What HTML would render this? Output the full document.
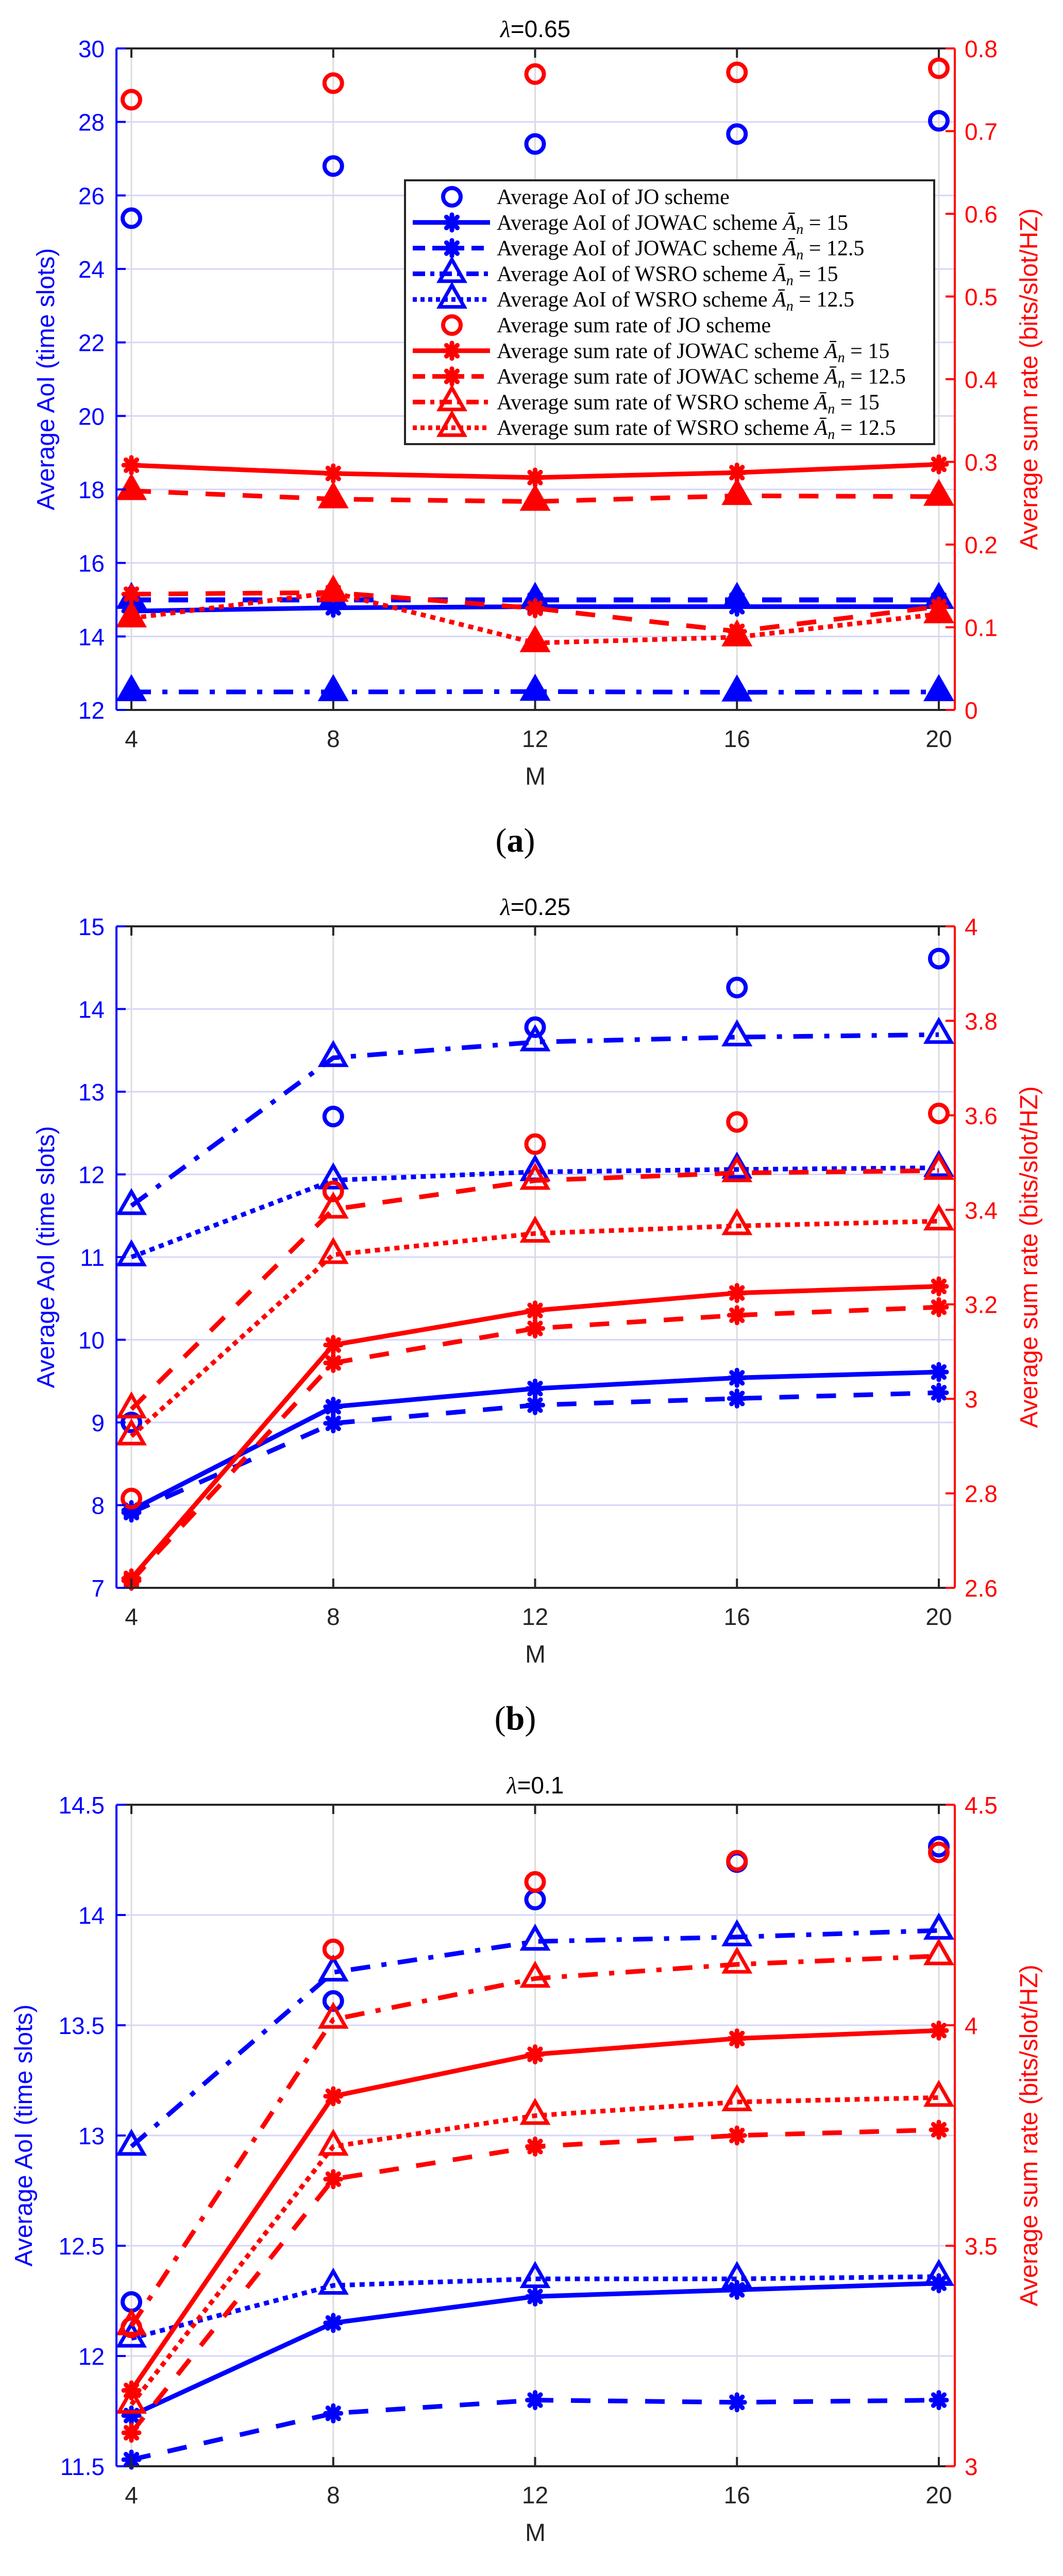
<!DOCTYPE html>
<html><head><meta charset="utf-8">
<style>
html,body{margin:0;padding:0;background:#fff;width:2063px;height:5105px;overflow:hidden;}
svg{display:block;}
text{font-family:"Liberation Sans",sans-serif;}
.serif{font-family:"Liberation Serif",serif;}
</style></head>
<body>
<svg id="fig" width="2063" height="5105" viewBox="0 0 2063 5105" xmlns="http://www.w3.org/2000/svg"></svg>
<script>
const xCategories = [4, 8, 12, 16, 20];
const xTicks = [4, 8, 12, 16, 20];

// Panel (a) lambda = 0.65
const aTitle = "0.65";
const aLeftTicks = [12, 14, 16, 18, 20, 22, 24, 26, 28, 30];
const aRightTicks = ["0", "0.1", "0.2", "0.3", "0.4", "0.5", "0.6", "0.7", "0.8"];
const aAoiJO = [25.38, 26.8, 27.4, 27.67, 28.03];
const aAoiJOWAC15 = [14.69, 14.78, 14.81, 14.81, 14.81];
const aAoiJOWAC125 = [14.99, 14.99, 14.99, 14.99, 14.99];
const aAoiWSRO15 = [15.0, 15.0, 15.0, 15.0, 15.0];
const aAoiWSRO125 = [12.49, 12.49, 12.5, 12.48, 12.49];
const aRateJO = [0.738, 0.758, 0.769, 0.771, 0.776];
const aRateJOWAC15 = [0.296, 0.286, 0.281, 0.287, 0.297];
const aRateJOWAC125 = [0.140, 0.142, 0.123, 0.095, 0.125];
const aRateWSRO15 = [0.265, 0.255, 0.252, 0.259, 0.258];
const aRateWSRO125 = [0.111, 0.142, 0.081, 0.088, 0.116];

// Panel (b) lambda = 0.25
const bTitle = "0.25";
const bLeftTicks = [7, 8, 9, 10, 11, 12, 13, 14, 15];
const bRightTicks = ["2.6", "2.8", "3", "3.2", "3.4", "3.6", "3.8", "4"];
const bAoiJO = [9.0, 12.70, 13.78, 14.26, 14.61];
const bAoiJOWAC15 = [7.94, 9.19, 9.41, 9.54, 9.61];
const bAoiJOWAC125 = [7.91, 8.99, 9.21, 9.29, 9.36];
const bAoiWSRO15 = [11.62, 13.41, 13.60, 13.66, 13.69];
const bAoiWSRO125 = [11.0, 11.93, 12.03, 12.06, 12.08];
const bRateJO = [2.789, 3.439, 3.539, 3.586, 3.604];
const bRateJOWAC15 = [2.62, 3.114, 3.187, 3.224, 3.238];
const bRateJOWAC125 = [2.615, 3.076, 3.149, 3.177, 3.194];
const bRateWSRO15 = [2.978, 3.401, 3.462, 3.478, 3.483];
const bRateWSRO125 = [2.921, 3.305, 3.35, 3.366, 3.376];

// Panel (c) lambda = 0.1
const cTitle = "0.1";
const cLeftTicks = ["11.5", "12", "12.5", "13", "13.5", "14", "14.5"];
const cRightTicks = ["3", "3.5", "4", "4.5"];
const cAoiJO = [12.245, 13.61, 14.07, 14.24, 14.31];
const cAoiJOWAC15 = [11.73, 12.15, 12.27, 12.30, 12.33];
const cAoiJOWAC125 = [11.53, 11.74, 11.80, 11.79, 11.80];
const cAoiWSRO15 = [12.95, 13.74, 13.88, 13.90, 13.93];
const cAoiWSRO125 = [12.08, 12.32, 12.35, 12.35, 12.36];
const cRateJO = [3.315, 4.172, 4.325, 4.373, 4.392];
const cRateJOWAC15 = [3.172, 3.839, 3.934, 3.970, 3.988];
const cRateJOWAC125 = [3.076, 3.651, 3.725, 3.75, 3.763];
const cRateWSRO15 = [3.318, 4.013, 4.106, 4.138, 4.157];
const cRateWSRO125 = [3.14, 3.725, 3.795, 3.826, 3.836];

const NS = "http://www.w3.org/2000/svg";
const svg = document.getElementById("fig");
const BLUE = "#0000ff", RED = "#ff0000";
const DASH = {solid: null, dash: "38 34", dot: "10 9", dashdot: "38 22 10 22"};

function mk(tag, attrs, parent) {
  const e = document.createElementNS(NS, tag);
  for (const k in attrs) e.setAttribute(k, attrs[k]);
  (parent || svg).appendChild(e);
  return e;
}

const L = 226, R = 1853, H = 1284;
function xs(v) { return 255 + (v - 4) * (1822 - 255) / 16; }

function marker(g, type, cx, cy, color, filled) {
  let m;
  if (type === "o") {
    m = mk("circle", {cx: cx, cy: cy, r: 17, fill: "none", stroke: color, "stroke-width": 8}, g);
  } else if (type === "^") {
    const s = 24;
    m = mk("polygon", {points: `${cx},${cy - s * 1.15} ${cx - s},${cy + s * 0.6} ${cx + s},${cy + s * 0.6}`,
      fill: filled ? color : "none", stroke: color, "stroke-width": 7, "stroke-linejoin": "miter"}, g);
  } else {
    m = mk("g", {}, g);
    const r = 15;
    for (let i = 0; i < 4; i++) {
      const ang = i * Math.PI / 4;
      mk("line", {x1: cx - r * Math.cos(ang), y1: cy - r * Math.sin(ang), x2: cx + r * Math.cos(ang), y2: cy + r * Math.sin(ang),
        stroke: color, "stroke-width": 9, "stroke-linecap": "round"}, m);
    }
    mk("circle", {cx: cx, cy: cy, r: 9, fill: color}, m);
  }
  return m;
}

function series(g, vals, ys, color, style, mtype, name, filled) {
  const sg = mk("g", {}, g);
  
  
  if (style) {
    const pts = vals.map((v, i) => xs(xCategories[i]) + "," + ys(v)).join(" ");
    const pl = mk("polyline", {points: pts, fill: "none", stroke: color, "stroke-width": 9, "stroke-linejoin": "round"}, sg);
    if (DASH[style]) pl.setAttribute("stroke-dasharray", DASH[style]);
  }
  vals.forEach((v, i) => {
    const m = marker(sg, mtype, xs(xCategories[i]), ys(v), color, filled);
    
    
  });
}

function panel(key, top, title, leftTicks, rightTicks, lmin, lmax, rmin, rmax, d, ylabX, labelChar, filledTri) {
  const g = mk("g", {});
  
  
  const B = top + H;
  const yl = v => B - (v - lmin) / (lmax - lmin) * H;
  const yr = v => B - (v - rmin) / (rmax - rmin) * H;
  leftTicks.forEach(t => {
    const y = yl(+t);
    if (y > top + 2 && y < B - 2) mk("line", {x1: L, x2: R, y1: y, y2: y, stroke: "#d6d6fb", "stroke-width": 3}, g);
  });
  xTicks.forEach(t => mk("line", {x1: xs(t), x2: xs(t), y1: top, y2: B, stroke: "#dcdcdc", "stroke-width": 3}, g));
  series(g, d.aoiWSRO125, yl, BLUE, key === "a" ? "dashdot" : "dot", "^", "aoi-wsro-12-5-line", filledTri);
  series(g, d.aoiWSRO15, yl, BLUE, key === "a" ? "dash" : "dashdot", "^", "aoi-wsro-15-line", filledTri);
  series(g, d.aoiJOWAC125, yl, BLUE, "dash", "*", "aoi-jowac-12-5-line");
  series(g, d.aoiJOWAC15, yl, BLUE, "solid", "*", "aoi-jowac-15-line");
  series(g, d.aoiJO, yl, BLUE, null, "o", "aoi-jo-points");
  series(g, d.rateWSRO125, yr, RED, "dot", "^", "rate-wsro-12-5-line", filledTri);
  series(g, d.rateWSRO15, yr, RED, key === "c" ? "dashdot" : "dash", "^", "rate-wsro-15-line", filledTri);
  series(g, d.rateJOWAC125, yr, RED, "dash", "*", "rate-jowac-12-5-line");
  series(g, d.rateJOWAC15, yr, RED, "solid", "*", "rate-jowac-15-line");
  series(g, d.rateJO, yr, RED, null, "o", "rate-jo-points");
  mk("line", {x1: L, x2: R, y1: top, y2: top, stroke: "#262626", "stroke-width": 4}, g);
  mk("line", {x1: L, x2: R, y1: B, y2: B, stroke: "#262626", "stroke-width": 4}, g);
  mk("line", {x1: L, x2: L, y1: top, y2: B, stroke: BLUE, "stroke-width": 4}, g);
  mk("line", {x1: R, x2: R, y1: top, y2: B, stroke: RED, "stroke-width": 4}, g);
  xTicks.forEach(t => {
    mk("line", {x1: xs(t), x2: xs(t), y1: B, y2: B - 18, stroke: "#262626", "stroke-width": 4}, g);
    mk("line", {x1: xs(t), x2: xs(t), y1: top, y2: top + 18, stroke: "#262626", "stroke-width": 4}, g);
    const tx = mk("text", {x: xs(t), y: B + 72, "text-anchor": "middle", "font-size": 46, fill: "#262626"}, g);
    tx.textContent = t;
    
    
  });
  leftTicks.forEach(t => {
    const y = yl(+t);
    mk("line", {x1: L, x2: L + 18, y1: y, y2: y, stroke: BLUE, "stroke-width": 4}, g);
    const tx = mk("text", {x: 203, y: y + 17, "text-anchor": "end", "font-size": 46, fill: BLUE}, g);
    tx.textContent = t;
    
    
  });
  rightTicks.forEach(t => {
    const y = yr(+t);
    mk("line", {x1: R, x2: R - 18, y1: y, y2: y, stroke: RED, "stroke-width": 4}, g);
    const tx = mk("text", {x: 1872, y: y + 17, "font-size": 46, fill: RED}, g);
    tx.textContent = t;
    
    
  });
  const ttl = mk("text", {x: 1039, y: top - 22, "text-anchor": "middle", "font-size": 46, fill: "#000"}, g);
  ttl.innerHTML = '<tspan font-style="italic" font-family="Liberation Serif, serif">λ</tspan>=' + title;
  
  
  const xl = mk("text", {x: 1039, y: B + 145, "text-anchor": "middle", "font-size": 48, fill: "#262626"}, g);
  xl.textContent = "M";
  
  
  const ylb = mk("text", {x: 0, y: 0, "text-anchor": "middle", "font-size": 48, fill: BLUE,
    transform: `translate(${ylabX},${top + H / 2}) rotate(-90)`}, g);
  ylb.textContent = "Average AoI (time slots)";
  
  
  const yrb = mk("text", {x: 0, y: 0, "text-anchor": "middle", "font-size": 48, fill: RED,
    transform: `translate(${2013},${top + H / 2}) rotate(-90)`}, g);
  yrb.textContent = "Average sum rate (bits/slot/HZ)";
  
  
  const cap = mk("text", {x: 1000, y: B + 275, "text-anchor": "middle", "font-size": 66, fill: "#000", "class": "serif"}, g);
  cap.innerHTML = '(<tspan font-weight="bold">' + labelChar + '</tspan>)';
  
  
  return g;
}

panel("a", 94, aTitle, aLeftTicks, aRightTicks, 12, 30, 0, 0.8, {
  aoiJO: aAoiJO, aoiJOWAC15: aAoiJOWAC15, aoiJOWAC125: aAoiJOWAC125, aoiWSRO15: aAoiWSRO15, aoiWSRO125: aAoiWSRO125,
  rateJO: aRateJO, rateJOWAC15: aRateJOWAC15, rateJOWAC125: aRateJOWAC125, rateWSRO15: aRateWSRO15, rateWSRO125: aRateWSRO125
}, 105, "a", true);
panel("b", 1798, bTitle, bLeftTicks, bRightTicks, 7, 15, 2.6, 4, {
  aoiJO: bAoiJO, aoiJOWAC15: bAoiJOWAC15, aoiJOWAC125: bAoiJOWAC125, aoiWSRO15: bAoiWSRO15, aoiWSRO125: bAoiWSRO125,
  rateJO: bRateJO, rateJOWAC15: bRateJOWAC15, rateJOWAC125: bRateJOWAC125, rateWSRO15: bRateWSRO15, rateWSRO125: bRateWSRO125
}, 105, "b", false);
panel("c", 3503, cTitle, cLeftTicks, cRightTicks, 11.5, 14.5, 3, 4.5, {
  aoiJO: cAoiJO, aoiJOWAC15: cAoiJOWAC15, aoiJOWAC125: cAoiJOWAC125, aoiWSRO15: cAoiWSRO15, aoiWSRO125: cAoiWSRO125,
  rateJO: cRateJO, rateJOWAC15: cRateJOWAC15, rateJOWAC125: cRateJOWAC125, rateWSRO15: cRateWSRO15, rateWSRO125: cRateWSRO125
}, 62, "c", false);

const legendLabels = [
  ["Average AoI of JO scheme", ""],
  ["Average AoI of JOWAC scheme ", "15"],
  ["Average AoI of JOWAC scheme ", "12.5"],
  ["Average AoI of WSRO scheme ", "15"],
  ["Average AoI of WSRO scheme ", "12.5"],
  ["Average sum rate of JO scheme", ""],
  ["Average sum rate of JOWAC scheme ", "15"],
  ["Average sum rate of JOWAC scheme ", "12.5"],
  ["Average sum rate of WSRO scheme ", "15"],
  ["Average sum rate of WSRO scheme ", "12.5"]
];
const legendStyles = [[null, "o"], ["solid", "*"], ["dash", "*"], ["dashdot", "^"], ["dot", "^"]];
const lg = mk("g", {});


mk("rect", {x: 786, y: 350, width: 1027, height: 512, fill: "#fff", stroke: "#262626", "stroke-width": 4}, lg);
legendLabels.forEach((lab, i) => {
  const y = 382 + i * 49.8;
  const color = i < 5 ? BLUE : RED;
  const st = legendStyles[i % 5];
  const eg = mk("g", {}, lg);
  
  
  if (st[0]) {
    const ln = mk("line", {x1: 801, x2: 951, y1: y, y2: y, stroke: color, "stroke-width": 9}, eg);
    if (DASH[st[0]]) ln.setAttribute("stroke-dasharray", st[0] === "dash" ? "24 14" : st[0] === "dot" ? "8 7" : "24 10 8 10");
  }
  marker(eg, st[1], 877, y, color, false);
  const t = mk("text", {x: 964, y: y + 14, "font-size": 42, fill: "#000", "class": "serif"}, eg);
  if (lab[1]) {
    t.innerHTML = lab[0] + '<tspan font-style="italic">Ā</tspan><tspan font-style="italic" font-size="28" dy="8">n</tspan><tspan dy="-8"> = ' + lab[1] + '</tspan>';
  } else {
    t.textContent = lab[0];
  }
});
</script>
</body></html>
